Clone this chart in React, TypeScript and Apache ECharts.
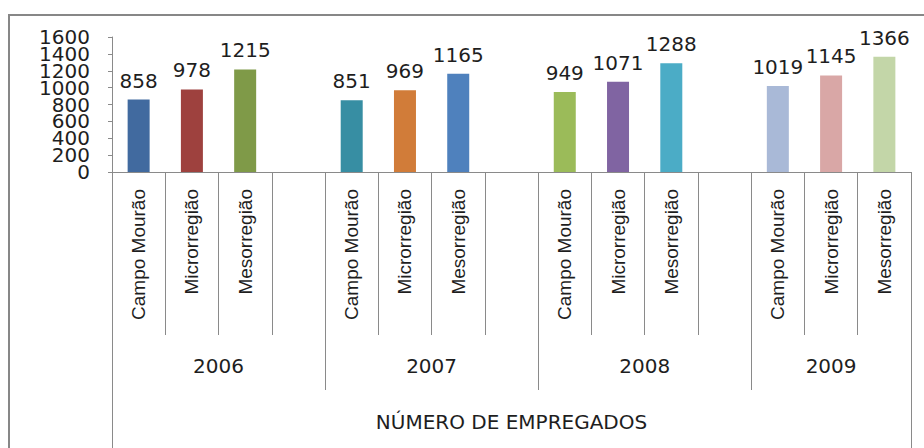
import React, { useEffect, useRef } from 'react';
import * as echarts from 'echarts';

const years = ['2006', '2007', '2008', '2009'];
const regions = ['Campo Mourão', 'Microrregião', 'Mesorregião'];
const emp2006 = [858, 978, 1215];
const emp2007 = [851, 969, 1165];
const emp2008 = [949, 1071, 1288];
const emp2009 = [1019, 1145, 1366];
const colors2006 = ['#416A9F', '#9E413E', '#7F9A48'];
const colors2007 = ['#378EA3', '#D17C39', '#4F81BD'];
const colors2008 = ['#9BBB59', '#8064A2', '#4BACC6'];
const colors2009 = ['#A9B9D7', '#D9A7A6', '#C3D6A8'];
const yMin = 0;
const yMax = 1600;
const yStep = 200;
const axisTitle = 'NÚMERO DE EMPREGADOS';

const valuesByYear = [emp2006, emp2007, emp2008, emp2009];
const colorsByYear = [colors2006, colors2007, colors2008, colors2009];

const LINE = '#8a8a8a';
const TEXT = '#1e1e1e';
const NUM_FONT = 'DejaVu Sans';
const CAT_FONT = "'Liberation Sans Narrow', 'Liberation Sans'";

export default function App() {
  const ref = useRef<HTMLDivElement>(null);
  useEffect(() => {
    // build slots: 3 regions per year plus a gap slot between years
    const slotKeys: string[] = [];
    const slotLabels: Record<string, string> = {};
    const barData: any[] = [];
    const groupStarts: number[] = [];
    const groupSizes: number[] = [];
    years.forEach((yr, yi) => {
      groupStarts.push(slotKeys.length);
      regions.forEach((rg, ri) => {
        const key = `${yr}|${rg}`;
        slotKeys.push(key);
        slotLabels[key] = rg;
        barData.push({
          value: valuesByYear[yi][ri],
          itemStyle: { color: colorsByYear[yi][ri] },
        });
      });
      if (yi < years.length - 1) {
        const key = `${yr}|gap`;
        slotKeys.push(key);
        slotLabels[key] = '';
        barData.push('-');
      }
      groupSizes.push(slotKeys.length - groupStarts[yi]);
    });
    const nSlots = slotKeys.length;
    const halfKeys: string[] = [];
    for (let i = 0; i <= nSlots * 2; i++) halfKeys.push('h' + i);
    const boundaries = groupStarts.map((s) => s * 2).concat([nSlots * 2]);
    const centers: Record<number, string> = {};
    years.forEach((yr, yi) => {
      centers[groupStarts[yi] * 2 + groupSizes[yi]] = yr;
    });
    const titleIdx = nSlots;

    const yLabelBase = {
      margin: 22,
      align: 'right',
      fontSize: 20,
      lineHeight: 16,
      fontFamily: NUM_FONT,
      color: TEXT,
      showMinLabel: true,
      showMaxLabel: true,
    };

    const chart = echarts.init(ref.current!, null, { renderer: 'svg' });
    chart.setOption({
      animation: false,
      backgroundColor: '#ffffff',
      grid: { left: 112, right: 13, top: 37, bottom: 276, containLabel: false },
      graphic: [
        {
          type: 'rect',
          shape: { x: 9, y: 15, width: 960, height: 480 },
          style: { fill: 'none', stroke: '#878787', lineWidth: 2 },
          silent: true,
        },
      ],
      xAxis: [
        {
          type: 'category',
          position: 'bottom',
          data: slotKeys,
          axisLine: { show: true, lineStyle: { color: LINE, width: 1 } },
          axisTick: { show: true, interval: 0, length: 163, lineStyle: { color: LINE } },
          axisLabel: {
            interval: 0,
            rotate: 90,
            margin: 17,
            fontSize: 19,
            fontFamily: CAT_FONT,
            color: TEXT,
            formatter: (v: string) => slotLabels[v] ?? '',
          },
        },
        {
          type: 'category',
          position: 'bottom',
          boundaryGap: false,
          data: halfKeys,
          axisLine: { show: false },
          axisTick: {
            show: true,
            interval: (i: number) => boundaries.includes(i),
            length: 218,
            lineStyle: { color: LINE },
          },
          axisLabel: {
            interval: (i: number) => centers[i] !== undefined,
            margin: 184,
            fontSize: 20,
            fontFamily: NUM_FONT,
            color: TEXT,
            formatter: (_v: string, i: number) => centers[i] ?? '',
          },
        },
        {
          type: 'category',
          position: 'bottom',
          boundaryGap: false,
          data: halfKeys,
          axisLine: { show: false },
          axisTick: {
            show: true,
            interval: (i: number) => i === 0 || i === nSlots * 2,
            length: 280,
            lineStyle: { color: LINE },
          },
          axisLabel: {
            interval: (i: number) => i === titleIdx,
            margin: 240,
            fontSize: 20,
            fontFamily: NUM_FONT,
            color: TEXT,
            formatter: (_v: string, i: number) => (i === titleIdx ? axisTitle : ''),
          },
        },
      ],
      yAxis: [
        {
          type: 'value',
          position: 'left',
          min: yMin,
          max: yMax,
          interval: yStep,
          axisLine: { show: true, lineStyle: { color: LINE } },
          axisTick: { show: true, length: 4, lineStyle: { color: LINE } },
          splitLine: { show: false },
          axisLabel: {
            ...yLabelBase,
            formatter: (v: number) => ((v / yStep) % 2 === 0 ? String(v) : ''),
          },
        },
        {
          type: 'value',
          position: 'left',
          offset: 0,
          min: yMin,
          max: yMax,
          interval: yStep,
          axisLine: { show: false },
          axisTick: { show: false },
          splitLine: { show: false },
          axisLabel: {
            ...yLabelBase,
            formatter: (v: number) => ((v / yStep) % 2 === 1 ? String(v) : ''),
          },
        },
      ],
      series: [
        {
          type: 'bar',
          xAxisIndex: 0,
          yAxisIndex: 0,
          barWidth: 22,
          data: barData,
          label: {
            show: true,
            position: 'top',
            distance: 9,
            fontSize: 20,
            fontFamily: NUM_FONT,
            color: TEXT,
          },
        },
      ],
    });
    return () => chart.dispose();
  }, []);
  return (
    <div
      ref={ref}
      style={{ position: 'fixed', left: 0, top: 0, width: 924, height: 448, background: '#fff' }}
    />
  );
}
